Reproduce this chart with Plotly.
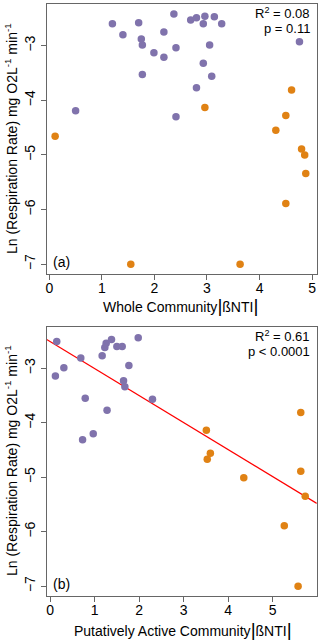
import plotly.graph_objects as go

# panel (a) whole community
whole_x_purple = [1.20, 1.40, 1.70, 1.75, 1.77, 1.77, 1.99, 2.18, 2.18, 2.37, 2.41, 2.41,
                  2.69, 2.80, 2.80, 2.93, 2.93, 2.96, 3.05, 3.09, 3.14, 3.28, 4.76, 0.50]
whole_y_purple = [-2.60, -2.80, -2.58, -2.88, -2.99, -3.53, -3.13, -2.75, -3.21, -2.42, -3.04, -4.30,
                  -2.53, -2.49, -3.77, -2.60, -3.32, -2.46, -2.99, -3.56, -2.47, -2.60, -2.93, -4.19]
whole_x_orange = [0.11, 2.96, 4.61, 4.50, 4.31, 4.80, 4.86, 4.88, 4.50, 1.55, 3.63]
whole_y_orange = [-4.66, -4.13, -3.81, -4.28, -4.55, -4.89, -5.00, -5.34, -5.89, -7.0, -7.0]

# panel (b) putatively active community
active_x_purple = [0.15, 0.12, 0.31, 0.69, 0.79, 0.73, 0.97, 1.17, 1.23, 1.26, 1.28, 1.38,
                   1.50, 1.62, 1.65, 1.68, 1.77, 1.98, 2.30]
active_y_purple = [-2.51, -3.14, -2.99, -2.81, -3.55, -4.31, -4.20, -2.77, -2.62, -2.54, -3.77, -2.47,
                   -2.60, -2.60, -3.23, -3.34, -2.95, -2.44, -3.57]
active_x_orange = [5.63, 3.51, 3.60, 3.53, 4.35, 5.63, 5.73, 5.26, 5.57]
active_y_orange = [-3.81, -4.14, -4.56, -4.67, -5.01, -4.89, -5.35, -5.89, -7.0]

# fitted line for (b)
fit_intercept = -2.51
fit_slope = -0.496

x_ticks_a = [0, 1, 2, 3, 4, 5]
x_ticks_b = [0, 1, 2, 3, 4, 5]
y_ticks = [-3, -4, -5, -6, -7]

purple = "#8073ac"
orange = "#e08214"
font = "Liberation Sans, Arial, sans-serif"

xrange_a = [-0.05, 5.09]
xrange_b = [-0.075, 5.99]
yrange = [-7.18, -2.237]

fig = go.Figure()


def add_points(xs, ys, color, xa, ya):
    fig.add_trace(go.Scatter(x=xs, y=ys, mode="markers", xaxis=xa, yaxis=ya,
                             marker=dict(color=color, size=7.5, line=dict(width=0)),
                             showlegend=False, hoverinfo="skip"))


add_points(whole_x_purple, whole_y_purple, purple, "x", "y")
add_points(whole_x_orange, whole_y_orange, orange, "x", "y")

fit_x = xrange_b
fit_y = [fit_intercept + fit_slope * v for v in fit_x]
fig.add_trace(go.Scatter(x=fit_x, y=fit_y, mode="lines", xaxis="x2", yaxis="y2",
                         line=dict(color="red", width=1.2), showlegend=False, hoverinfo="skip"))
add_points(active_x_purple, active_y_purple, purple, "x2", "y2")
add_points(active_x_orange, active_y_orange, orange, "x2", "y2")

axis_common = dict(showline=True, linecolor="#666666", linewidth=1, mirror=True,
                   ticks="outside", ticklen=5, tickcolor="#666666", showgrid=False,
                   zeroline=False, tickfont=dict(family=font, size=14, color="black"))

fig.update_layout(
    width=320, height=642,
    margin=dict(l=0, r=0, t=0, b=0),
    paper_bgcolor="white", plot_bgcolor="white",
    font=dict(family=font, color="black"),
    xaxis=dict(domain=[0.146, 0.990], range=xrange_a, tickvals=x_ticks_a, anchor="y",
               ticklabelstandoff=-4, **axis_common),
    yaxis=dict(domain=[0.5732, 0.9938], range=yrange, tickvals=y_ticks, tickangle=-90,
               tickformat="d", anchor="x", **axis_common),
    xaxis2=dict(domain=[0.146, 0.990], range=xrange_b, tickvals=x_ticks_b, anchor="y2",
                ticklabelstandoff=-4, **axis_common),
    yaxis2=dict(domain=[0.0717, 0.4911], range=yrange, tickvals=y_ticks, tickangle=-90,
                tickformat="d", anchor="x2", **axis_common),
)

ylab = "Ln (Respiration Rate) mg O2L<sup>-1</sup> min<sup>-1</sup>"
bar = "<span style='font-size:19px'>|</span>"


def ann(text, x, y, size=14, xanchor="center", angle=0):
    fig.add_annotation(text=text, x=x / 320, y=1 - y / 642, xref="paper", yref="paper",
                       showarrow=False, xanchor=xanchor, yanchor="middle", textangle=angle,
                       font=dict(family=font, size=size, color="black"))


ann(ylab, 11, 139, angle=-90)
ann(ylab, 11, 461, angle=-90)
ann("Whole Community" + bar + "ßNTI" + bar, 180, 305)
ann("Putatively Active Community" + bar + "ßNTI" + bar, 183, 629)
ann("R<sup>2</sup> = 0.08", 312, 13, size=13, xanchor="right")
ann("p = 0.11", 312, 28, size=13, xanchor="right")
ann("R<sup>2</sup> = 0.61", 312, 336, size=13, xanchor="right")
ann("p &lt; 0.0001", 312, 351, size=13, xanchor="right")
ann("(a)", 51, 262, xanchor="left")
ann("(b)", 51, 584, xanchor="left")

# page has an 8px body margin by default, drop it so the figure fills the window
fig.write_html("out.html", config={"displayModeBar": False},
               post_script="document.body.style.margin='0px';")
